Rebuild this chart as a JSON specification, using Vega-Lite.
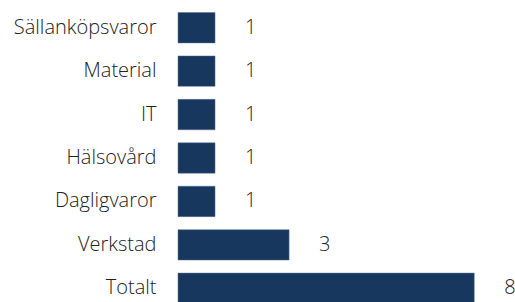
{
  "$schema": "https://vega.github.io/schema/vega-lite/v6.json",
  "autosize": {"type": "none"},
  "width": 337,
  "height": 304,
  "padding": {"left": 178, "top": 6, "right": 0, "bottom": 0},
  "config": {"view": {"stroke": null}, "font": "Open Sans"},
  "data": {"values": [
    {"sektor": "Sällanköpsvaror", "antal": 1},
    {"sektor": "Material", "antal": 1},
    {"sektor": "IT", "antal": 1},
    {"sektor": "Hälsovård", "antal": 1},
    {"sektor": "Dagligvaror", "antal": 1},
    {"sektor": "Verkstad", "antal": 3},
    {"sektor": "Totalt", "antal": 8}
  ]},
  "encoding": {
    "y": {"field": "sektor", "type": "nominal", "sort": null,
      "scale": {"paddingInner": 0.3, "paddingOuter": 0.15},
      "axis": {"title": null, "ticks": false, "domain": false, "labelPadding": 22, "labelFontSize": 20, "labelColor": "#222222", "labelFont": "Open Sans", "labelFontWeight": 300}},
    "x": {"field": "antal", "type": "quantitative", "scale": {"domain": [0, 9.1], "nice": false, "zero": true}, "axis": null}
  },
  "layer": [
    {"mark": {"type": "bar", "color": "#17375e", "stroke": "#5a7394", "strokeWidth": 0.5}},
    {"mark": {"type": "text", "align": "left", "dx": 30, "fontSize": 20, "color": "#222222", "font": "Open Sans", "fontWeight": 300}, "encoding": {"text": {"field": "antal"}}}
  ]
}
